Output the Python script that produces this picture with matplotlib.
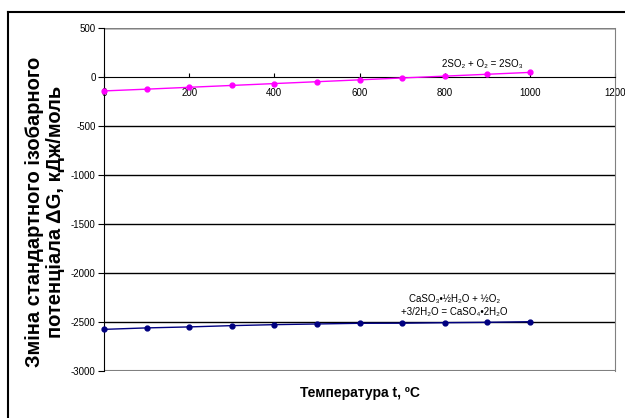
import matplotlib
matplotlib.use('Agg')
import matplotlib.pyplot as plt
from matplotlib.lines import Line2D

plt.rcParams['font.family'] = ['Liberation Sans', 'DejaVu Sans']
plt.rcParams['axes.unicode_minus'] = False

# temperature, C
t = [0, 100, 200, 300, 400, 500, 600, 700, 800, 900, 1000]
# 2SO2 + O2 = 2SO3
dg_so3 = [-142, -124, -105, -86, -67, -48, -29, -10, 9, 28, 47]
# CaSO3*1/2H2O + 1/2O2 + 3/2H2O = CaSO4*2H2O
dg_caso4 = [-2575, -2560, -2550, -2537, -2527, -2520, -2513, -2512, -2507, -2503, -2497]

xticks = [0, 200, 400, 600, 800, 1000, 1200]
yticks = [500, 0, -500, -1000, -1500, -2000, -2500, -3000]

fig = plt.figure(figsize=(6.25, 4.18), dpi=100)
ax = fig.add_axes([0.1664, 0.1124, 0.8176, 0.8206])

# grid lines
for yv in [500, -500, -1000, -1500, -2000, -2500]:
    ax.axhline(yv, color='black', lw=1.0, zorder=1)
ax.axhline(500, color='#808080', lw=1.0, zorder=1)
ax.axhline(-3000, color='#808080', lw=1.5, zorder=1)

ax.plot(t, dg_so3, color='#FF00FF', marker='o', ms=3.5, lw=1.0, zorder=3, clip_on=False)
ax.plot(t, dg_caso4, color='#000080', marker='o', ms=3.5, lw=1.0, zorder=3, clip_on=False)

ax.set_xlim(0, 1200)
ax.set_ylim(-3000, 500)
ax.set_xticks(xticks)
ax.set_yticks(yticks)
ax.tick_params(axis='x', direction='in', length=3, labelsize=7, pad=8)
ax.tick_params(axis='y', direction='out', length=4, labelsize=7, pad=2)

ax.spines['bottom'].set_position(('data', 0))
ax.spines['bottom'].set_color('black')
ax.spines['left'].set_color('black')
ax.spines['top'].set_visible(False)
ax.spines['right'].set_color('#808080')

ax.text(889, 133, '2SO₂ + O₂ = 2SO₃', fontsize=7, ha='center', va='center')
ax.text(823, -2262, 'CaSO₃•½H₂O + ½O₂', fontsize=7, ha='center', va='center')
ax.text(823, -2395, '+3/2H₂O = CaSO₄•2H₂O', fontsize=7, ha='center', va='center')

fig.text(0.072, 1 - 212 / 418, 'Зміна стандартного ізобарного\nпотенціала ΔG, кДж/моль',
         rotation=90, ha='center', va='center', fontsize=14.5, fontweight='bold',
         linespacing=1.15)
fig.text(360 / 625, 1 - 393 / 418, 'Температура t, ºC', ha='center', va='center',
         fontsize=10, fontweight='bold')

# outer chart frame (partly cropped)
fig.add_artist(Line2D([8 / 625, 1.0], [1 - 12 / 418, 1 - 12 / 418], color='black', lw=1.5,
                      transform=fig.transFigure))
fig.add_artist(Line2D([8 / 625, 8 / 625], [0, 1 - 12 / 418], color='black', lw=1.5,
                      transform=fig.transFigure))

fig.savefig('out.png', dpi=100)
